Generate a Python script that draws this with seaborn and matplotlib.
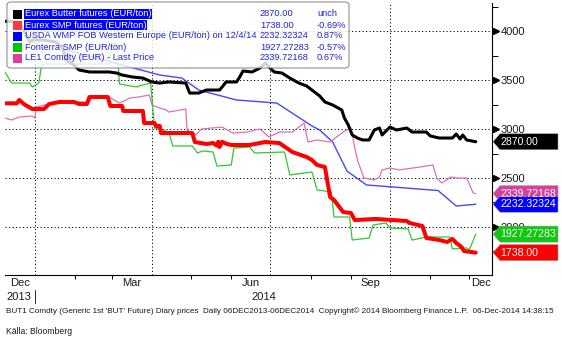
import matplotlib
matplotlib.use("Agg")
import numpy as np
import pandas as pd
import matplotlib.pyplot as plt
import seaborn as sns
from matplotlib.transforms import blended_transform_factory
from matplotlib.patches import Polygon, FancyBboxPatch, Rectangle

# ---------------- data ----------------
butter_dates = ['2013-12-09','2013-12-20','2013-12-28','2013-12-30','2014-01-07','2014-01-17','2014-01-22','2014-01-25','2014-01-31','2014-02-04',
                '2014-02-12','2014-02-27','2014-03-05','2014-03-09','2014-03-17','2014-03-25','2014-04-01','2014-04-07','2014-04-14','2014-04-27',
                '2014-04-30','2014-05-07','2014-05-13','2014-05-23','2014-05-25','2014-05-28','2014-06-05','2014-06-07','2014-06-10','2014-06-17',
                '2014-06-23','2014-06-27','2014-06-30','2014-07-04','2014-07-10','2014-07-16','2014-07-23','2014-07-29','2014-08-02','2014-08-08',
                '2014-08-12','2014-08-18','2014-08-25','2014-08-27','2014-08-30','2014-09-02','2014-09-06','2014-09-10','2014-09-15','2014-09-19',
                '2014-09-23','2014-09-25','2014-10-01','2014-10-06','2014-10-14','2014-10-18','2014-10-29','2014-11-01','2014-11-08','2014-11-18',
                '2014-11-21','2014-11-24','2014-11-26','2014-11-29','2014-12-06']
butter_vals = [4100,4092,3888,3908,3908,3888,3837,3704,3653,3602,
               3582,3582,3571,3551,3531,3520,3480,3469,3480,3469,
               3367,3367,3398,3398,3429,3480,3480,3520,3592,3582,
               3622,3673,3633,3582,3571,3520,3469,3439,3398,3337,
               3276,3245,3194,3112,3041,2939,2908,2888,2888,2990,
               3010,2939,3020,2990,3010,2969,2969,2929,2908,2908,
               2949,2898,2939,2888,2870]

smp_dates = ['2013-12-09','2013-12-18','2013-12-20','2013-12-24','2013-12-30','2014-01-08','2014-01-12','2014-01-20','2014-01-31','2014-02-04',
             '2014-02-10','2014-02-12','2014-02-26','2014-02-28','2014-03-09','2014-03-10','2014-03-25','2014-03-26','2014-04-03','2014-04-04',
             '2014-04-07','2014-04-08','2014-05-02','2014-05-04','2014-05-13','2014-05-18','2014-05-21','2014-05-22','2014-05-23','2014-05-25',
             '2014-05-28','2014-06-01','2014-06-15','2014-06-27','2014-07-08','2014-07-18','2014-07-29','2014-08-02','2014-08-06','2014-08-12',
             '2014-08-16','2014-08-19','2014-08-26','2014-09-01','2014-09-04','2014-09-20','2014-10-14','2014-10-16','2014-10-26','2014-10-29',
             '2014-11-08','2014-11-14','2014-11-18','2014-11-21','2014-11-25','2014-11-27','2014-12-06']
smp_vals = [3262,3262,3296,3250,3204,3204,3255,3276,3276,3255,
            3255,3327,3327,3235,3235,3184,3184,3061,3061,3031,
            3031,2959,2959,2867,2847,2857,2830,2870,2816,2870,
            2850,2837,2837,2867,2857,2765,2714,2684,2633,2612,
            2306,2276,2153,2143,2071,2082,2061,2041,2010,1888,
            1867,1847,1878,1837,1796,1755,1738]

wmp_dates = ['2014-01-25','2014-04-07','2014-04-24','2014-05-07','2014-06-05','2014-07-06','2014-08-02','2014-08-08','2014-08-18','2014-08-29',
             '2014-09-13','2014-11-07','2014-11-21','2014-12-06']
wmp_vals = [3806,3551,3520,3398,3296,3265,3031,2990,2867,2570,
            2429,2372,2214,2232]

fonterra_dates = ['2013-12-09','2013-12-14','2013-12-28','2013-12-30','2014-01-04','2014-01-06','2014-01-08','2014-02-27','2014-03-01','2014-03-05',
                  '2014-03-07','2014-03-20','2014-03-25','2014-03-31','2014-04-03','2014-04-07','2014-04-14','2014-04-17','2014-05-02','2014-05-06',
                  '2014-05-10','2014-05-18','2014-05-21','2014-06-01','2014-06-03','2014-06-15','2014-06-19','2014-07-12','2014-07-16','2014-08-02',
                  '2014-08-06','2014-08-17','2014-08-19','2014-08-31','2014-09-02','2014-09-15','2014-09-18','2014-09-28','2014-10-01','2014-10-15',
                  '2014-10-18','2014-10-29','2014-11-16','2014-11-18','2014-11-29','2014-12-01','2014-12-06']
fonterra_vals = [3582,3469,3469,3429,3469,3640,3663,3663,3870,3870,
                 3460,3429,3449,3469,3010,3000,2969,2827,2827,2755,
                 2776,2765,2622,2633,2806,2816,2755,2765,2531,2561,
                 2378,2357,2102,2102,1867,1888,2020,2041,1990,1980,
                 1867,1898,1898,1776,1786,1765,1927]

le1_dates = ['2013-12-09','2013-12-14','2013-12-20','2013-12-30','2014-01-01','2014-01-02','2014-01-12','2014-01-20','2014-02-12','2014-02-13',
             '2014-02-20','2014-02-27','2014-03-07','2014-03-15','2014-03-22','2014-03-30','2014-04-01','2014-04-07','2014-04-12','2014-04-14',
             '2014-04-27','2014-04-28','2014-05-05','2014-05-09','2014-05-25','2014-06-02','2014-06-13','2014-06-23','2014-06-30','2014-07-08',
             '2014-07-18','2014-07-27','2014-07-30','2014-08-06','2014-08-16','2014-08-18','2014-08-26','2014-09-01','2014-09-04','2014-09-06',
             '2014-09-11','2014-09-19','2014-09-23','2014-09-25','2014-10-01','2014-10-08','2014-10-24','2014-11-03','2014-11-06','2014-11-10',
             '2014-11-17','2014-11-22','2014-11-29','2014-12-04','2014-12-06']
le1_vals = [3112,3092,3122,3133,3112,3225,3255,3276,3276,3337,
            3327,3327,3265,3316,3327,3347,3245,3214,3194,3173,
            3204,2990,2939,3000,3020,2959,2969,3000,2918,2969,
            2969,3061,2867,2888,2867,2888,2969,3010,2806,2684,
            2500,2480,2510,2582,2602,2582,2612,2633,2500,2449,
            2510,2500,2500,2347,2340]

legend_names = ['Eurex Butter futures (EUR/ton)', 'Eurex SMP futures (EUR/ton)',
                'USDA WMP FOB Western Europe (EUR/ton) on 12/4/14', 'Fonterra SMP (EUR/ton)',
                'LE1 Comdty (EUR) - Last Price']
legend_last = ['2870.00', '1738.00', '2232.32324', '1927.27283', '2339.72168']
legend_change = ['unch', '-0.69%', '0.87%', '-0.57%', '0.67%']
tag_labels = ['2870.00', '2339.72168', '2232.32324', '1927.27283', '1738.00']
tag_values = [2870.00, 2339.72168, 2232.32324, 1927.27283, 1738.00]
y_ticks = [2000, 2500, 3000, 3500, 4000]
y_minor = [1750, 2250, 2750, 3250, 3750, 4250]
month_labels = ['Dec', 'Mar', 'Jun', 'Sep', 'Dec']
month_label_months = ['2013-12', '2014-03', '2014-06', '2014-09', '2014-12']
footer = ("BUT1 Comdty (Generic 1st 'BUT' Future) Diary prices  Daily 06DEC2013-06DEC2014  "
          "Copyright\u00a9 2014 Bloomberg Finance L.P.  06-Dec-2014 14:38:15")
source = "Källa: Bloomberg"

# ---------------- style ----------------
sns.set_theme(style="white")
plt.rcParams['font.family'] = ['Liberation Sans', 'DejaVu Sans']

W, H = 562, 342
fig = plt.figure(figsize=(W / 100, H / 100), dpi=100)
fig.patch.set_facecolor('white')
ax = fig.add_axes([5 / W, 1 - 275 / H, 487 / W, 272 / H])

def fx(p):
    return p / W

def fy(p):
    return 1 - p / H

series = [
    (wmp_dates, wmp_vals, '#4646ff', 1.0, 2.0),
    (le1_dates, le1_vals, '#e070b4', 0.9, 2.1),
    (fonterra_dates, fonterra_vals, '#2fc82f', 0.9, 2.2),
    (smp_dates, smp_vals, '#ff0000', 2.9, 2.3),
    (butter_dates, butter_vals, '#000000', 2.2, 2.4),
]
for d, v, c, lw, z in series:
    sns.lineplot(x=pd.to_datetime(d), y=v, ax=ax, color=c, linewidth=lw,
                 estimator=None, sort=False, zorder=z)

x0 = pd.Timestamp('2013-12-09')
x1 = pd.Timestamp('2014-12-18 12:00')
ax.set_xlim(x0, x1)
ax.set_ylim(1510, 4286)
ax.set_xlabel('')
ax.set_ylabel('')

quarters = pd.to_datetime(['2014-01-01', '2014-04-01', '2014-07-01', '2014-10-01'])
months = pd.to_datetime(['2014-02-01', '2014-03-01', '2014-05-01', '2014-06-01', '2014-08-01',
                         '2014-09-01', '2014-11-01', '2014-12-01'])
ax.set_xticks(quarters)
ax.set_xticklabels([''] * len(quarters))
ax.set_xticks(months, minor=True)
ax.tick_params(axis='x', which='major', length=0, bottom=False)
ax.tick_params(axis='x', which='minor', length=3, width=0.7, direction='out',
               bottom=True, color='black')

ax.yaxis.tick_right()
ax.set_yticks(y_ticks)
ax.set_yticklabels([str(t) for t in y_ticks])
ax.set_yticks(y_minor, minor=True)
ax.tick_params(axis='y', which='major', length=0, pad=6, labelsize=8, labelcolor='#1a1a1a', right=True, left=False)
ax.tick_params(axis='y', which='minor', length=4, width=0.7, direction='out', right=True, left=False, color='black')

ax.grid(True, which='major', axis='both', color='black', linestyle=(0, (1.2, 2.4)), linewidth=0.7)
ax.set_axisbelow(True)
for s in ['left', 'top']:
    ax.spines[s].set_visible(False)
for s in ['right', 'bottom']:
    ax.spines[s].set_visible(True)
    ax.spines[s].set_color('black')
    ax.spines[s].set_linewidth(0.8)

# triangle markers at major y ticks
tr_y = blended_transform_factory(ax.transAxes, ax.transData)
ax.plot([1 + 3.5 / 487] * len(y_ticks), y_ticks, linestyle='none', marker='>', markersize=4.5,
        color='black', transform=tr_y, clip_on=False, zorder=3)

# month labels centred on the visible part of each month
tr_x = blended_transform_factory(ax.transData, ax.transAxes)
xl = ax.get_xlim()
for lab, m in zip(month_labels, month_label_months):
    p = pd.Period(m, 'M')
    s = max(matplotlib.dates.date2num(p.start_time), xl[0])
    e = min(matplotlib.dates.date2num((p + 1).start_time), xl[1])
    ax.text((s + e) / 2, -8 / 272, lab, transform=tr_x, ha='center', va='center', fontsize=8, color='#1a1a1a')

# year labels
dec_s = xl[0]
jan1 = matplotlib.dates.date2num(pd.Timestamp('2014-01-01'))
ax.text((dec_s + jan1) / 2 - 1, -22 / 272, '2013', transform=tr_x, ha='center', va='center', fontsize=8, color='#1a1a1a')
ax.text((jan1 + xl[1]) / 2, -22 / 272, '2014', transform=tr_x, ha='center', va='center', fontsize=8, color='#1a1a1a')
ax.plot([jan1, jan1], [-15 / 272, -28 / 272], transform=tr_x, color='black', lw=0.6, clip_on=False)

# value tags on the right
tag_colors = ['#000000', '#d8409a', '#0000ff', '#10c810', '#ff0000']
hh = 8 * (ax.get_ylim()[1] - ax.get_ylim()[0]) / 272
tr_tag = blended_transform_factory(fig.transFigure, ax.transData)
for lab, val, col in zip(tag_labels, tag_values, tag_colors):
    pts = [(fx(493), val), (fx(500), val + hh), (fx(558), val + hh), (fx(558), val - hh), (fx(500), val - hh)]
    poly = Polygon(pts, closed=True, transform=tr_tag, facecolor=col, edgecolor='#9a9a9a', lw=0.4,
                   clip_on=False, zorder=10)
    ax.add_patch(poly)
    ax.text(fx(500.5), val, lab, transform=tr_tag, ha='left', va='center', fontsize=7.6,
            color='white', zorder=11, clip_on=False)

# legend box (semi-transparent, lines show through)
box = FancyBboxPatch((fx(7), fy(68)), fx(342), 66 / H, boxstyle='round,pad=0,rounding_size=0.008',
                     transform=fig.transFigure, facecolor='white', edgecolor='#7a7a7a', lw=0.8,
                     alpha=0.82, zorder=1)
fig.add_artist(box)
sq_colors = ['#000000', '#ff3a3a', '#0000ff', '#00c800', '#dd3f9a']
txt_col = '#2424d8'
for i, (nm, lv, ch, sc) in enumerate(zip(legend_names, legend_last, legend_change, sq_colors)):
    yc = 14 + 11 * i
    fig.add_artist(Rectangle((fx(13), fy(yc + 4.5)), 9 / W, 9 / H, transform=fig.transFigure,
                             facecolor=sc, edgecolor='none', zorder=2))
    if i < 2:
        fig.text(fx(25), fy(yc), nm, fontsize=6.7, color='white', va='center', ha='left', zorder=3,
                 bbox=dict(facecolor='#0000ff', edgecolor='none', pad=0.6))
    else:
        fig.text(fx(25), fy(yc), nm, fontsize=6.7, color=txt_col, va='center', ha='left', zorder=3)
    fig.text(fx(260), fy(yc), lv, fontsize=6.7, color=txt_col, va='center', ha='left', zorder=3)
    fig.text(fx(317), fy(yc), ch, fontsize=6.7, color=txt_col, va='center', ha='left', zorder=3)

fig.text(fx(6), fy(311), footer, fontsize=5.85, color='#1a1a1a', va='center', ha='left')
fig.text(fx(6), fy(332), source, fontsize=6.2, color='#1a1a1a', va='center', ha='left')

fig.savefig('out.png', dpi=100, facecolor='white')
